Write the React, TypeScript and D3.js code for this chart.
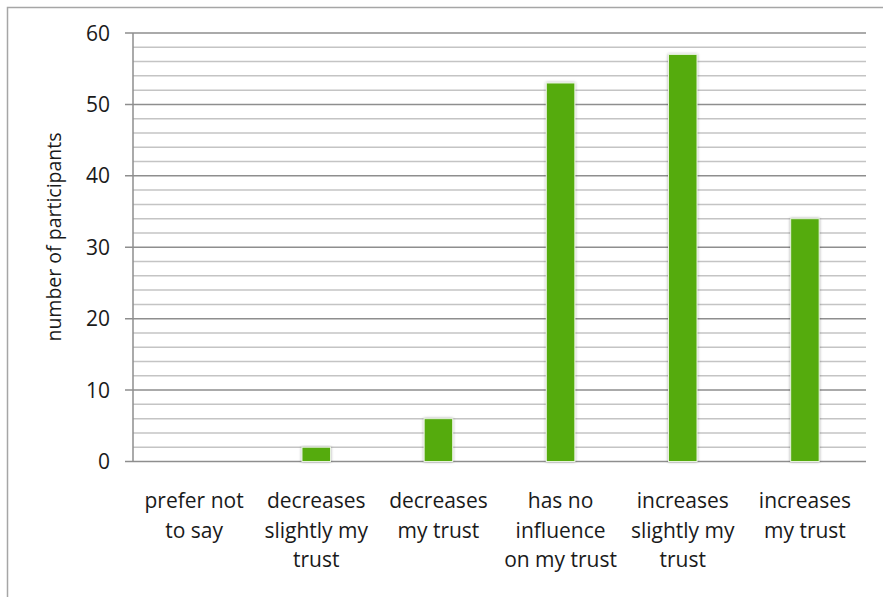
import React from "react";
import * as d3 from "d3";

const categories: string[][] = [
  ["prefer not", "to say"],
  ["decreases", "slightly my", "trust"],
  ["decreases", "my trust"],
  ["has no", "influence", "on my trust"],
  ["increases", "slightly my", "trust"],
  ["increases", "my trust"],
];
const values: number[] = [0, 2, 6, 53, 57, 34];
const majorTicks: number[] = [0, 10, 20, 30, 40, 50, 60];
const minorTicks: number[] = [2, 4, 6, 8, 12, 14, 16, 18, 22, 24, 26, 28, 32, 34, 36, 38, 42, 44, 46, 48, 52, 54, 56, 58];
const yTitle = "number of participants";

const W = 883;
const H = 597;
const left = 133;
const right = 866;
const top = 33;
const bottom = 461.5;
const FONT = "'Open Sans', sans-serif";

export default function App() {
  const x = d3.scaleBand<number>().domain(d3.range(values.length)).range([left, right]).paddingInner(0).paddingOuter(0);
  const y = d3.scaleLinear().domain([0, 60]).range([bottom, top]);
  const bw = 28.5;
  return (
    <svg width={W} height={H} style={{ position: "absolute", left: 0, top: 0, background: "#fff" }}>
      <defs>
        <filter id="sh" x="-30%" y="-10%" width="160%" height="130%">
          <feGaussianBlur in="SourceAlpha" stdDeviation="1.5" />
          <feOffset dx="0" dy="0" result="b" />
          <feComponentTransfer><feFuncA type="linear" slope="0.35" /></feComponentTransfer>
          <feMerge><feMergeNode /><feMergeNode in="SourceGraphic" /></feMerge>
        </filter>
      </defs>
      <rect x={7.5} y={7.5} width={W + 10} height={H + 10} fill="none" stroke="#a6a6a6" strokeWidth={1.5} />
      {minorTicks.map((t) => (
        <line key={"m" + t} x1={left} x2={right} y1={y(t)} y2={y(t)} stroke="#c4c4c4" strokeWidth={1.5} />
      ))}
      {majorTicks.map((t) => (
        <g key={"M" + t}>
          <line x1={left - 8} x2={right} y1={y(t)} y2={y(t)} stroke="#8e8e8e" strokeWidth={1.5} />
          <text x={110} y={y(t)} dy="0.36em" textAnchor="end" fontFamily={FONT} fontSize={21} fill="#1a1a1a">{t}</text>
        </g>
      ))}
      <line x1={left} x2={left} y1={top} y2={bottom} stroke="#8e8e8e" strokeWidth={1.5} />
      {values.map((v, i) => {
        const cx = x(i)! + x.bandwidth() / 2;
        if (v <= 0) return null;
        return (
          <rect key={i} x={cx - bw / 2} y={y(v)} width={bw} height={bottom - y(v)} fill="#55ab0f" stroke="#e6f2dc" strokeWidth={1} filter="url(#sh)" />
        );
      })}
      {categories.map((lines, i) => {
        const cx = x(i)! + x.bandwidth() / 2;
        return (
          <text key={i} x={cx} textAnchor="middle" fontFamily={FONT} fontSize={21} fill="#1a1a1a">
            {lines.map((l, j) => (
              <tspan key={j} x={cx} y={508 + j * 29.5}>{l}</tspan>
            ))}
          </text>
        );
      })}
      <text transform={`translate(61,${237}) rotate(-90)`} textAnchor="middle" fontFamily={FONT} fontSize={19.5} fill="#1a1a1a">{yTitle}</text>
    </svg>
  );
}
